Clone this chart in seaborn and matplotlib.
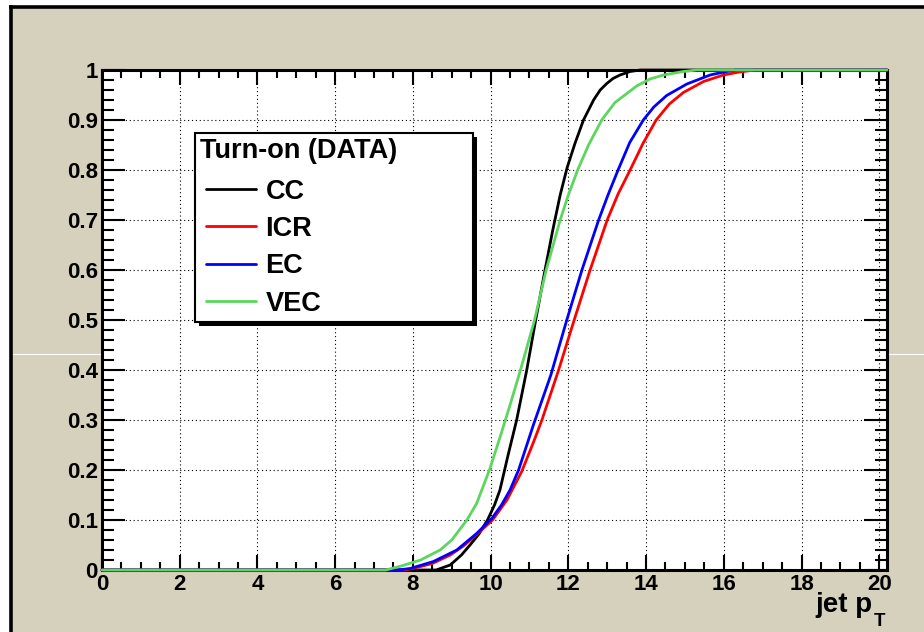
import numpy as np
import pandas as pd
import matplotlib
matplotlib.use("Agg")
import matplotlib.pyplot as plt
import matplotlib.patheffects as pe
from matplotlib.lines import Line2D
from matplotlib.patches import Rectangle
from matplotlib.legend_handler import HandlerLine2D
from matplotlib.ticker import MultipleLocator, FixedLocator, FixedFormatter
import seaborn as sns

# Trigger turn-on efficiency vs jet pT, one curve per calorimeter region
regions = ["CC", "ICR", "EC", "VEC"]
colors = ["#000000", "#ff0000", "#0000ff", "#5cd65c"]

cc_pt = [0, 8.6, 8.96, 9.25, 9.47, 9.7, 9.92, 10.1, 10.24, 10.45, 10.67, 10.93,
         11.16, 11.40, 11.60, 11.79, 11.97, 12.17, 12.39, 12.65, 12.82, 12.99,
         13.15, 13.33, 13.59, 13.85, 20.2]
cc_eff = [0, 0, 0.01, 0.03, 0.05, 0.072, 0.10, 0.13, 0.16, 0.23, 0.30, 0.40,
          0.50, 0.60, 0.68, 0.75, 0.805, 0.853, 0.90, 0.94, 0.96, 0.973,
          0.983, 0.99, 0.997, 1.0, 1.0]

icr_pt = [0, 7.8, 8.0, 8.5, 8.96, 9.3, 9.64, 10.05, 10.42, 10.8, 11.10, 11.32,
          11.75, 12.15, 12.56, 13.0, 13.28, 13.59, 13.92, 14.26, 14.6, 14.96,
          15.48, 15.99, 16.4, 16.8, 20.2]
icr_eff = [0, 0, 0.003, 0.013, 0.03, 0.048, 0.071, 0.10, 0.14, 0.197, 0.255, 0.30,
           0.40, 0.50, 0.60, 0.70, 0.752, 0.80, 0.853, 0.90, 0.932, 0.955,
           0.977, 0.99, 0.996, 1.0, 1.0]

ec_pt = [0, 7.6, 7.93, 8.53, 9.13, 9.64, 10.03, 10.28, 10.5, 10.72, 11.10, 11.55,
         11.96, 12.35, 12.78, 13.02, 13.28, 13.58, 13.93, 14.2, 14.53, 15.05,
         15.65, 16.0, 16.3, 20.2]
ec_eff = [0, 0, 0.003, 0.017, 0.04, 0.073, 0.103, 0.13, 0.16, 0.20, 0.29, 0.39,
          0.50, 0.60, 0.70, 0.75, 0.80, 0.855, 0.90, 0.926, 0.949, 0.972,
          0.99, 0.996, 1.0, 1.0]

vec_pt = [0, 7.3, 7.7, 8.2, 8.7, 9.0, 9.39, 9.64, 9.97, 10.24, 10.50, 10.75,
          10.95, 11.13, 11.43, 11.79, 12.0, 12.24, 12.52, 12.86, 13.2, 13.76,
          14.1, 14.45, 14.96, 15.3, 20.2]
vec_eff = [0, 0, 0.008, 0.02, 0.04, 0.06, 0.10, 0.133, 0.20, 0.265, 0.33, 0.395,
           0.45, 0.50, 0.60, 0.70, 0.75, 0.80, 0.85, 0.90, 0.935, 0.968,
           0.982, 0.99, 0.997, 1.0, 1.0]

x_ticks = [0, 2, 4, 6, 8, 10, 12, 14, 16, 18, 20]
x_tick_labels = ["0", "2", "4", "6", "8", "10", "12", "14", "16", "18", "20"]
y_ticks = [0, 0.1, 0.2, 0.3, 0.4, 0.5, 0.6, 0.7, 0.8, 0.9, 1.0]
y_tick_labels = ["0", "0.1", "0.2", "0.3", "0.4", "0.5", "0.6", "0.7", "0.8", "0.9", "1"]

legend_title = "Turn-on (DATA)"
x_label = "jet p"
x_label_sub = "T"

frames = []
for name, pt, eff in zip(regions,
                         [cc_pt, icr_pt, ec_pt, vec_pt],
                         [cc_eff, icr_eff, ec_eff, vec_eff]):
    frames.append(pd.DataFrame({"pt": pt, "eff": eff, "region": name}))
df = pd.concat(frames, ignore_index=True)

sns.set_style("white")
plt.rcParams["font.family"] = ["Liberation Sans", "DejaVu Sans"]
plt.rcParams["font.weight"] = "bold"
plt.rcParams["text.color"] = "black"
plt.rcParams["axes.labelcolor"] = "black"
plt.rcParams["xtick.color"] = "black"
plt.rcParams["ytick.color"] = "black"

W, H = 924, 632
fig = plt.figure(figsize=(W / 100, H / 100), dpi=100, facecolor="white")

# canvas panel with dark frame on the top and left edges
fig.add_artist(Rectangle((11 / W, 0), 1 - 11 / W, 1 - 7 / H, transform=fig.transFigure,
                         facecolor="#d6d1bd", edgecolor="none", zorder=-3))
fig.add_artist(Line2D([9 / W, 1], [1 - 6.7 / H, 1 - 6.7 / H], transform=fig.transFigure,
                      color="black", lw=2.6, zorder=-2, solid_capstyle="butt"))
fig.add_artist(Line2D([11 / W, 11 / W], [0, 1 - 5 / H], transform=fig.transFigure,
                      color="black", lw=2.6, zorder=-2, solid_capstyle="butt"))
fig.add_artist(Line2D([13 / W, 1], [1 - 354 / H, 1 - 354 / H], transform=fig.transFigure,
                      color="white", lw=0.8, zorder=-1))

ax = fig.add_axes([102 / W, 62 / H, 785 / W, 500 / H])
ax.set_facecolor("white")

sns.lineplot(data=df, x="pt", y="eff", hue="region", hue_order=regions,
             palette=colors, estimator=None, sort=False, legend=False,
             linewidth=2.0, ax=ax)
for ln in ax.lines:
    ln.set_clip_on(False)
    ln.set_zorder(3)
    ln.set_solid_joinstyle("round")

ax.set_xlim(0, 20.2)
ax.set_ylim(0, 1)

ax.xaxis.set_major_locator(FixedLocator(x_ticks))
ax.xaxis.set_major_formatter(FixedFormatter(x_tick_labels))
ax.xaxis.set_minor_locator(MultipleLocator(0.5))
ax.yaxis.set_major_locator(FixedLocator(y_ticks))
ax.yaxis.set_major_formatter(FixedFormatter(y_tick_labels))
ax.yaxis.set_minor_locator(MultipleLocator(0.02))

ax.tick_params(axis="x", which="major", direction="in", length=11, width=1.5,
               top=True, bottom=True, labelsize=16, pad=3, colors="black")
ax.tick_params(axis="x", which="minor", direction="in", length=5.8, width=1.5,
               top=True, bottom=True, colors="black")
ax.tick_params(axis="y", which="major", direction="in", length=16.5, width=1.5,
               left=True, right=True, labelsize=16, pad=3, colors="black")
ax.tick_params(axis="y", which="minor", direction="in", length=8.6, width=1.5,
               left=True, right=True, colors="black")
for lab in ax.get_xticklabels() + ax.get_yticklabels():
    lab.set_fontweight("bold")
    lab.set_color("black")

for sp in ax.spines.values():
    sp.set_visible(True)
    sp.set_color("black")
    sp.set_linewidth(2.2)

ax.grid(True, which="major", color="black", linestyle=(0, (1, 2.5)), linewidth=0.8)
ax.set_axisbelow(True)

ax.set_ylabel("")
ax.set_xlabel(x_label, fontsize=20, fontweight="bold", color="black")
ax.xaxis.label.set_ha("right")
ax.xaxis.label.set_va("baseline")
ax.xaxis.set_label_coords(0.981, -0.085)
ax.text(0.9835, -0.111, x_label_sub, transform=ax.transAxes, ha="left", va="baseline",
        fontsize=13.5, fontweight="bold", color="black")

# legend: key lines inset from the left edge of the box content
leg_size = 19.5
handles = [Line2D([], [], color=c, lw=2.0) for c in colors]
leg = ax.legend(handles, regions, title=legend_title, loc="upper left",
                bbox_to_anchor=(0.1185, 0.0, 0.354, 0.8746), mode="expand",
                borderaxespad=0, frameon=True, fancybox=False, framealpha=1,
                facecolor="white", edgecolor="black",
                prop={"family": "Liberation Sans", "weight": "bold", "size": leg_size},
                title_fontproperties={"family": "Liberation Sans", "weight": "bold",
                                      "size": leg_size},
                alignment="left", handlelength=2.3, handletextpad=0.12,
                labelspacing=0.42, borderpad=0.18,
                handler_map={Line2D: HandlerLine2D(numpoints=2, marker_pad=0.24)})
if hasattr(leg, "_legend_box"):
    leg._legend_box.sep = 0.42 * leg_size + 2.6
for t in leg.get_texts():
    t.set_color("black")
leg.get_title().set_color("black")
leg.get_frame().set_linewidth(1.5)
leg.get_frame().set_path_effects([
    pe.SimplePatchShadow(offset=(3, -3), shadow_rgbFace="black", alpha=1.0),
    pe.Normal(),
])
leg.set_zorder(5)

fig.savefig("out.png", dpi=100, facecolor=fig.get_facecolor())
